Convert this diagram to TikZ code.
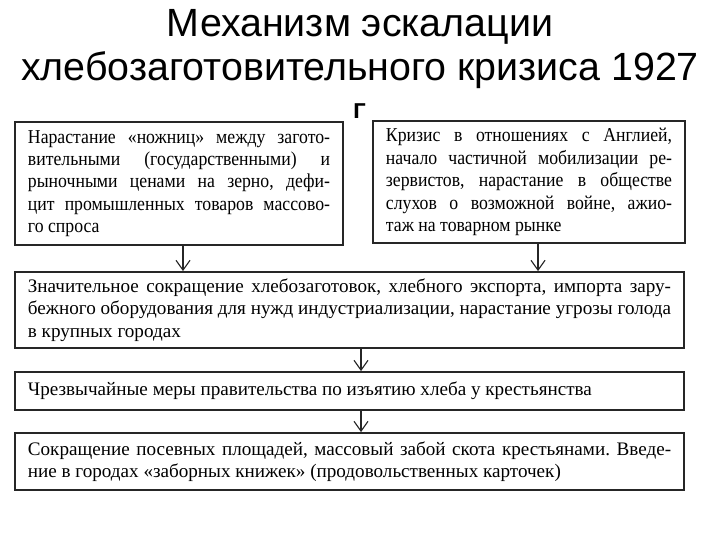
\documentclass[tikz,border=0pt]{standalone}
\usepackage{fontspec}
\setmainfont{Liberation Serif}
\newfontfamily\titlefont{Liberation Sans}
\newfontfamily\narrowfont[FakeStretch=0.9]{Liberation Serif}
\usetikzlibrary{arrows.meta}

\begin{document}
\frenchspacing
\begin{tikzpicture}[
    x=0.025cm, y=-0.025cm,
  stagebox/.style={rectangle, draw=black!85, line width=1.3pt, inner xsep=0.325cm, inner ysep=0pt, align=justify, font=\fontsize{13.6}{15.9}\selectfont},
  causebox/.style={stagebox, font=\narrowfont\fontsize{14}{15.9}\selectfont},
  downarrow/.style={-{Straight Barb[length=7pt,width=10pt]}, line width=0.8pt, draw=black!85}
]
\useasboundingbox (0,0) rectangle (720,540);

% Title (its last line is cut by the scheme)
\begin{scope}
\clip (0,0) rectangle (720,117);
\node[align=center, font=\titlefont\fontsize{28}{31.3}\selectfont] (title) at (360,67)
  {Механизм эскалации\\ хлебозаготовительного кризиса 1927\\ г};
\end{scope}

% Causes
\node[causebox, text width=7.55cm, minimum height=3.075cm] (scissors) at (179,183.5)
  {Нарастание «ножниц» между загото-\linebreak вительными (государственными) и\linebreak рыночными ценами на зерно, дефи-\linebreak цит промышленных товаров массово-\linebreak го спроса};
\node[causebox, text width=7.15cm, minimum height=3.05cm] (england) at (529,182)
  {Кризис в отношениях с Англией,\linebreak начало частичной мобилизации ре-\linebreak зервистов, нарастание в обществе\linebreak слухов о возможной войне, ажио-\linebreak таж на товарном рынке};

% Consequences
\node[stagebox, text width=16.075cm, minimum height=1.9cm] (decline) at (349.5,310)
  {Значительное сокращение хлебозаготовок, хлебного экспорта, импорта зару-\linebreak бежного оборудования для нужд индустриализации, нарастание угрозы голода\linebreak в крупных городах};
\node[stagebox, text width=16.075cm, minimum height=0.95cm] (measures) at (349.5,391)
  {Чрезвычайные меры правительства по изъятию хлеба у крестьянства};
\node[stagebox, text width=16.075cm, minimum height=1.425cm] (cards) at (349.5,461.5)
  {Сокращение посевных площадей, массовый забой скота крестьянами. Введе-\linebreak ние в городах «заборных книжек» (продовольственных карточек)};

% Arrows
\draw[downarrow] (scissors.south -| 183,0) -- (decline.north -| 183,0);
\draw[downarrow] (england.south -| 538,0) -- (decline.north -| 538,0);
\draw[downarrow] (decline.south -| 361,0) -- (measures.north -| 361,0);
\draw[downarrow] (measures.south -| 361,0) -- (cards.north -| 361,0);

\end{tikzpicture}
\end{document}
